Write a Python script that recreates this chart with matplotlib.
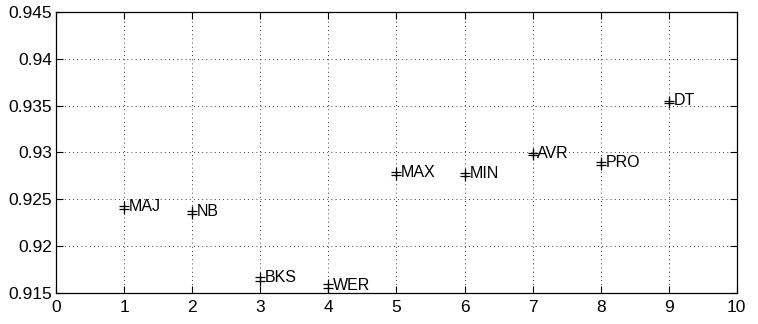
import numpy as np
import matplotlib.pyplot as plt

plt.rcParams['font.family'] = ['Liberation Sans', 'DejaVu Sans']

# two runs per method, drawn on top of each other
xpos = [1, 2, 3, 4, 5, 6, 7, 8, 9]
names = ['MAJ', 'NB', 'BKS', 'WER', 'MAX', 'MIN', 'AVR', 'PRO', 'DT']
run_a = [0.9243, 0.9237, 0.9167, 0.9159, 0.9279, 0.9278, 0.9299, 0.9290, 0.9355]
run_b = [0.9240, 0.9234, 0.9163, 0.9155, 0.9276, 0.9275, 0.9297, 0.9287, 0.9353]

fig = plt.figure(figsize=(7.58, 3.24), dpi=100)
ax = fig.add_axes([0.074, 0.096, 0.898, 0.867])

ax.plot(xpos, run_a, '+', color='k', markersize=7, markeredgewidth=0.9)
ax.plot(xpos, run_b, '+', color='k', markersize=7, markeredgewidth=0.9)
for x, y1, y2, n in zip(xpos, run_a, run_b, names):
    ax.text(x + 0.07, (y1 + y2) / 2 + 0.0001, n, fontsize=11.5, va='center', ha='left')

ax.set_xlim(0, 10)
ax.set_ylim(0.915, 0.945)
ax.set_xticks(range(0, 11))
ax.set_yticks([0.915, 0.92, 0.925, 0.93, 0.935, 0.94, 0.945])
ax.set_yticklabels(['0.915', '0.92', '0.925', '0.93', '0.935', '0.94', '0.945'])
ax.tick_params(direction='in', top=True, right=True, labelsize=12.5, length=5, width=0.8, pad=3)
ax.tick_params(axis='x', pad=5)
ax.grid(True, linestyle=(0, (1, 4)), color='k', linewidth=0.6)
for s in ax.spines.values():
    s.set_linewidth(0.9)

fig.savefig('out.png', dpi=100)
